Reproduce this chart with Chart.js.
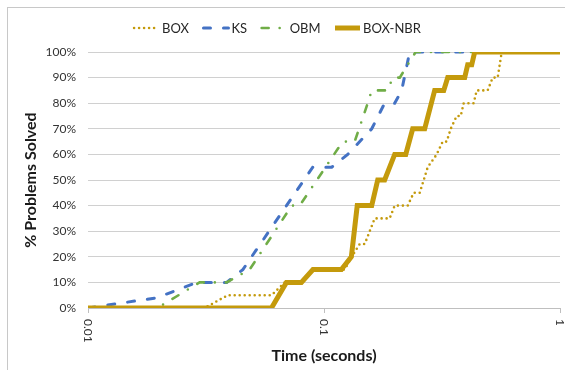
<!DOCTYPE html>
<html><head><meta charset="utf-8">
<script src="https://cdn.jsdelivr.net/npm/chart.js@4"></script>
<style>html,body{margin:0;padding:0;background:#fff;}canvas{display:block;}</style>
</head><body>
<canvas id="c" width="565" height="370"></canvas>
<script>
// ---- data (time in seconds, % problems solved) ----
const seriesNames = ['BOX', 'KS', 'OBM', 'BOX-NBR'];

const boxTime = [0.01, 0.0312, 0.0391, 0.0524, 0.0600, 0.0682, 0.0802, 0.0898, 0.1224, 0.1310, 0.1417, 0.1488, 0.1640, 0.1898, 0.1993, 0.2263, 0.2399, 0.2544, 0.2751, 0.3003, 0.3184, 0.3311, 0.3443, 0.3650, 0.3795, 0.3908, 0.4308, 0.4436, 0.4938, 0.5186, 0.5445, 0.5662, 1];
const boxPct  = [0, 0, 5, 5, 5, 10, 10, 15, 15, 20, 25, 25, 35, 35, 40, 40, 45, 45, 55, 60, 65, 65, 70, 75, 75, 80, 80, 85, 85, 90, 90, 100, 100];

const ksTime = [0.01, 0.0196, 0.0289, 0.0387, 0.0453, 0.0896, 0.1078, 0.1260, 0.1593, 0.1807, 0.1993, 0.2134, 0.2307, 1];
const ksPct  = [0, 4, 10, 10, 15, 55, 55, 60, 70, 80, 80, 85, 100, 100];

const obmTime = [0.01, 0.0197, 0.0297, 0.0387, 0.0484, 0.0730, 0.0789, 0.1200, 0.1349, 0.1532, 0.1593, 0.1862, 0.1955, 0.2094, 0.2446, 1];
const obmPct  = [0, 0, 10, 10, 15, 40, 40, 65, 65, 80, 85, 85, 90, 90, 100, 100];

const nbrTime = [0.01, 0.0599, 0.0693, 0.0802, 0.0898, 0.1185, 0.1306, 0.1383, 0.1593, 0.1689, 0.1807, 0.1993, 0.2220, 0.2376, 0.2671, 0.2944, 0.3216, 0.3344, 0.3947, 0.4064, 0.4226, 0.4351, 1];
const nbrPct  = [0, 0, 10, 10, 15, 15, 20, 40, 40, 50, 50, 60, 60, 70, 70, 85, 85, 90, 90, 95, 95, 100, 100];

const xTickValues = [0.01, 0.1, 1];
const xTickLabels = ['0.01', '0.1', '1'];
const yTickStep = 10;

const xTitle = 'Time (seconds)';
const yTitle = '% Problems Solved';

// ---- build ----
const pts = (t, p) => t.map((v, i) => ({x: v, y: p[i]}));
const GOLD = '#C49A0C', BLUE = '#4472C4', GREEN = '#70AD47';
const FONT = 'Lato';

const datasets = [
  {label: seriesNames[0], data: pts(boxTime, boxPct), borderColor: GOLD, borderWidth: 2.6, borderDash: [0, 5], borderCapStyle: 'round', order: 3},
  {label: seriesNames[1], data: pts(ksTime, ksPct), borderColor: BLUE, borderWidth: 3, borderDash: [7, 13], borderCapStyle: 'round', order: 2},
  {label: seriesNames[2], data: pts(obmTime, obmPct), borderColor: GREEN, borderWidth: 2.6, borderDash: [7, 11, 0, 11], borderCapStyle: 'round', order: 1},
  {label: seriesNames[3], data: pts(nbrTime, nbrPct), borderColor: GOLD, borderWidth: 5, borderDash: [], borderCapStyle: 'butt', order: 0}
];
datasets.forEach(d => { d.pointRadius = 0; d.tension = 0; d.fill = false; d.borderJoinStyle = 'miter'; });

const decor = {
  id: 'decor',
  afterDraw(chart) {
    const ctx = chart.ctx;
    ctx.save();
    // outer frame
    ctx.strokeStyle = '#c8c8c8'; ctx.lineWidth = 1;
    ctx.strokeRect(7.5, 7.5, 700, 500);
    // rotated x tick labels
    const xs = chart.scales.x;
    ctx.fillStyle = '#333';
    ctx.font = '12px ' + FONT;
    ctx.textAlign = 'left'; ctx.textBaseline = 'middle';
    xTickValues.forEach((v, i) => {
      const px = xs.getPixelForValue(v);
      ctx.save();
      ctx.translate(px, xs.top + 11);
      ctx.rotate(Math.PI / 2);
      ctx.fillText(xTickLabels[i], 0, 0);
      ctx.restore();
    });
    // legend
    ctx.font = '13px ' + FONT;
    const lineLen = 26, txtGap = 3, itemGap = 13.5, ly = 28;
    const widths = chart.data.datasets.map(d => lineLen + txtGap + ctx.measureText(d.label).width);
    const total = widths.reduce((a, b) => a + b, 0) + itemGap * (widths.length - 1);
    let x = 277 - total / 2;
    chart.data.datasets.forEach((d, i) => {
      ctx.save();
      ctx.strokeStyle = d.borderColor; ctx.lineWidth = d.borderWidth;
      ctx.setLineDash(d.borderDash || []); ctx.lineCap = d.borderCapStyle;
      ctx.beginPath(); ctx.moveTo(x + 1, ly); ctx.lineTo(x + lineLen, ly); ctx.stroke();
      ctx.restore();
      ctx.fillStyle = '#262626'; ctx.textAlign = 'left'; ctx.textBaseline = 'middle';
      ctx.fillText(d.label, x + lineLen + txtGap, ly + 1);
      x += widths[i] + itemGap;
    });
    ctx.restore();
  }
};

new Chart(document.getElementById('c'), {
  type: 'line',
  data: {datasets},
  options: {
    responsive: false, animation: false, devicePixelRatio: 1,
    layout: {padding: {top: 52, right: 5, left: 0, bottom: 0}},
    plugins: {legend: {display: false}, tooltip: {enabled: false}},
    scales: {
      x: {
        type: 'logarithmic', min: 0.01, max: 1,
        afterBuildTicks: s => { s.ticks = xTickValues.map(v => ({value: v})); },
        afterFit: s => { s.height = 62; },
        ticks: {display: false},
        grid: {drawOnChartArea: false, drawTicks: true, tickLength: 5, color: '#bfbfbf'},
        border: {display: true, color: '#bfbfbf'},
        title: {display: true, text: xTitle, color: '#1a1a1a', font: {family: FONT, size: 16, weight: 'bold'}, padding: {top: 0, bottom: 5}}
      },
      y: {
        min: 0, max: 100,
        afterFit: s => { s.width = 88; },
        ticks: {stepSize: yTickStep, callback: v => v + '%', padding: 12, color: '#333', font: {family: FONT, size: 12}},
        grid: {drawTicks: false, color: '#d0d0d0'},
        border: {display: false},
        title: {display: true, text: yTitle, color: '#1a1a1a', font: {family: FONT, size: 16, weight: 'bold'}, padding: {top: 21, bottom: 0}}
      }
    }
  },
  plugins: [decor]
});
</script>
</body></html>
